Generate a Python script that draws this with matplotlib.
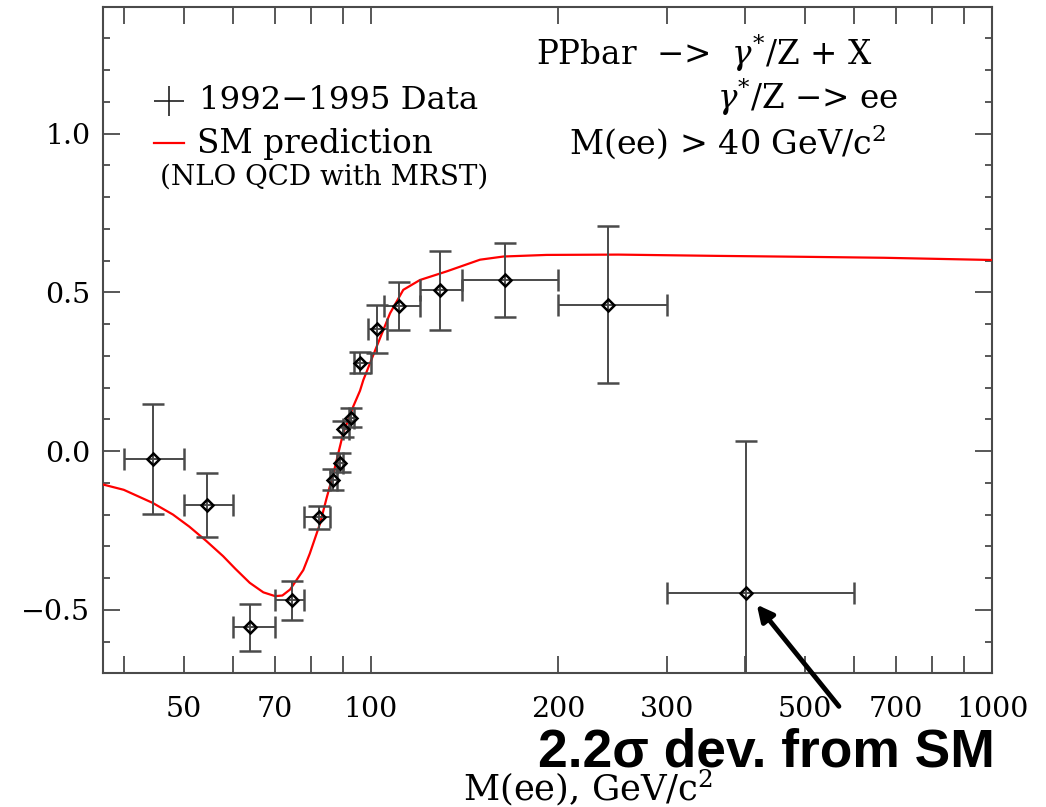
import numpy as np
import matplotlib
matplotlib.use('Agg')
import matplotlib.pyplot as plt

# Data: forward-backward asymmetry vs M(ee)
mass = np.array([44.5, 54.5, 63.8, 74.5, 82.5, 87.0, 89.2, 90.3, 93.0,
                 96.0, 102.1, 111.0, 128.9, 164.4, 240.6, 401.0])
afb = np.array([-0.025, -0.170, -0.555, -0.470, -0.209, -0.090, -0.036, 0.069, 0.105,
                0.279, 0.384, 0.458, 0.506, 0.539, 0.461, -0.447])
afb_err = np.array([0.173, 0.100, 0.074, 0.062, 0.036, 0.034, 0.030, 0.026, 0.030,
                    0.032, 0.076, 0.076, 0.124, 0.118, 0.248, 0.479])
bin_lo = np.array([40, 50, 60, 70, 78, 86, 88, 90, 92, 94, 99, 105, 120, 140, 200, 300])
bin_hi = np.array([50, 60, 70, 78, 86, 88, 90, 92, 94, 100, 106, 120, 140, 200, 300, 600])

# SM prediction curve
sm_mass = np.array([37, 40, 44.5, 48, 51, 54.3, 57.8, 60.5, 63.8, 67.1, 70.1, 72.0,
                    74.1, 77.8, 79.7, 82.8, 84.8, 87.0, 90.2, 93.6, 96.0, 97.2, 102.1,
                    107.3, 112.7, 119.9, 132.3, 149.8, 163.4, 191.7, 250, 360, 500, 669, 1000])
sm_afb = np.array([-0.105, -0.122, -0.163, -0.200, -0.238, -0.283, -0.331, -0.371,
                   -0.415, -0.445, -0.457, -0.455, -0.436, -0.375, -0.323, -0.228, -0.149,
                   -0.070, 0.056, 0.140, 0.190, 0.224, 0.329, 0.434, 0.508, 0.539, 0.566,
                   0.603, 0.613, 0.618, 0.619, 0.615, 0.612, 0.609, 0.602])

x_ticks = [40, 50, 60, 70, 80, 90, 100, 200, 300, 400, 500, 600, 700, 800, 900, 1000]
x_labels = ['', '50', '', '70', '', '', '100', '200', '300', '', '500', '', '700', '', '', '1000']
y_ticks = [-0.5, 0.0, 0.5, 1.0]
y_labels = ['\u22120.5', '0.0', '0.5', '1.0']

plt.rcParams['font.family'] = 'DejaVu Serif'
plt.rcParams['mathtext.fontset'] = 'dejavuserif'
axis_grey = '#4a4a4a'

fig = plt.figure(figsize=(10.46, 8.07), dpi=100)
ax = fig.add_axes([0.0982, 0.1657, 0.8505, 0.826])

ax.plot(sm_mass, sm_afb, color='#ff0000', lw=1.6, zorder=3)
ax.errorbar(mass, afb, xerr=[mass - bin_lo, bin_hi - mass], yerr=afb_err,
            fmt='D', ms=6, mfc='none', mec='black', mew=1.8,
            ecolor=axis_grey, elinewidth=1.4, capsize=8, capthick=1.4, zorder=4)

ax.set_xscale('log')
ax.set_xlim(37, 1000)
ax.set_ylim(-0.7, 1.4)
ax.set_xticks(x_ticks)
ax.set_xticklabels(x_labels)
ax.xaxis.set_minor_locator(matplotlib.ticker.NullLocator())
ax.set_yticks(y_ticks)
ax.set_yticklabels(y_labels)
ax.yaxis.set_minor_locator(matplotlib.ticker.MultipleLocator(0.1))

ax.tick_params(which='both', direction='in', top=True, right=True,
               color=axis_grey, width=1.3, labelsize=20.5)
ax.tick_params(axis='x', which='major', length=12.2, pad=16)
ax.tick_params(axis='y', which='major', length=12.2, pad=9)
ax.tick_params(axis='y', which='minor', length=4.8)
for s in ax.spines.values():
    s.set_color(axis_grey)
    s.set_linewidth(1.5)

# Legend (drawn by hand, like the original)
ax.plot([0.0745], [0.858], marker='+', ms=22, mew=1.2, color='#202020',
        transform=ax.transAxes, clip_on=False)
ax.text(0.108, 0.846, '1992\u22121995 Data', fontsize=23.3, transform=ax.transAxes, va='baseline')
ax.plot([0.058, 0.0916], [0.7955, 0.7955], color='#ff0000', lw=1.6, transform=ax.transAxes)
ax.text(0.106, 0.780, 'SM prediction', fontsize=23.5, transform=ax.transAxes, va='baseline')
ax.text(0.0644, 0.733, '(NLO QCD with MRST)', fontsize=20, transform=ax.transAxes, va='baseline')

# Process description
ax.text(0.487, 0.913, 'PPbar  \u2212>  $\\gamma^{*}$/Z + X', fontsize=23.5,
        transform=ax.transAxes, va='baseline')
ax.text(0.690, 0.846, '$\\gamma^{*}$/Z \u2212> ee', fontsize=23.5,
        transform=ax.transAxes, va='baseline')
ax.text(0.524, 0.780, 'M(ee) > 40 GeV/c$^{2}$', fontsize=24,
        transform=ax.transAxes, va='baseline')

# x label, placed as in the original
fig.text(0.562, 0.0087, 'M(ee), GeV/c$^{2}$', fontsize=25.5, ha='center', va='baseline')

# Arrow and comment on the last point
ax.annotate('', xy=(mass[-1] * 1.035, afb[-1] - 0.03), xytext=(570, -0.811),
            arrowprops=dict(arrowstyle='-|>', lw=3.5, color='black', mutation_scale=24),
            annotation_clip=False, zorder=5)
fig.text(0.5143, 0.0496, '2.2\u03c3 dev. from SM', fontsize=38.4, fontweight='bold',
         family='Liberation Sans', va='baseline')

plt.savefig('out.png', dpi=100)
